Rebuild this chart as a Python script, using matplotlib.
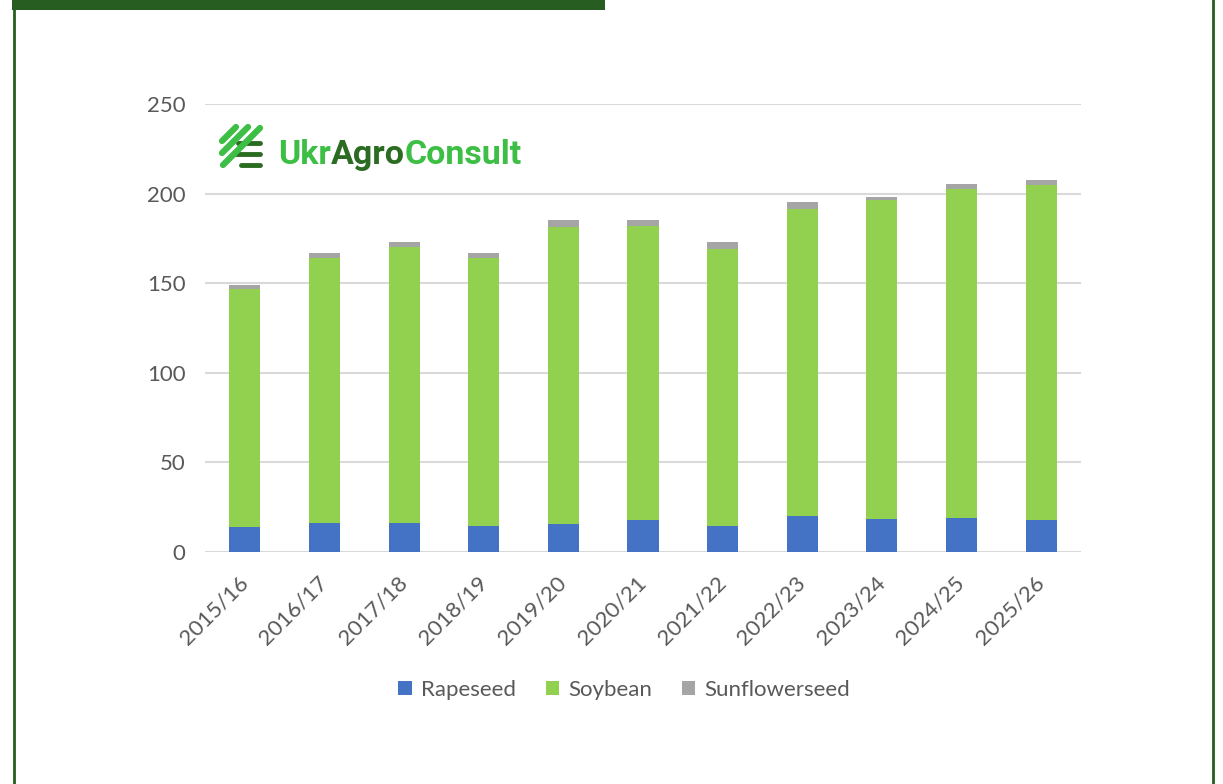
import numpy as np
from matplotlib import pyplot as plt
from matplotlib.lines import Line2D
from matplotlib.patches import Rectangle

## Data
seasons = ['2015/16', '2016/17', '2017/18', '2018/19', '2019/20', '2020/21',
           '2021/22', '2022/23', '2023/24', '2024/25', '2025/26']
rapeseed = [13.8, 16.0, 16.0, 14.5, 15.3, 17.5, 14.5, 19.7, 18.2, 19.0, 17.5]
soybean = [133.1, 147.9, 153.9, 149.4, 166.1, 164.6, 154.4, 171.4, 178.1, 183.8, 187.3]
sunflowerseed = [2.3, 2.8, 2.8, 2.8, 3.7, 3.0, 3.9, 4.2, 2.0, 2.8, 3.0]

c_rape = '#4472C4'
c_soy = '#92D050'
c_sun = '#A5A5A5'
txt = '#595959'
frame = '#275D20'

plt.rcParams['font.family'] = ['Lato', 'DejaVu Sans']

W, H = 1223, 784
fig = plt.figure(figsize=(W / 100, H / 100), dpi=100)
fig.patch.set_facecolor('white')

def fx(px):
	return px / W

def fy(py):
	return 1 - py / H

ax = fig.add_axes([fx(205), fy(551.7), fx(1081) - fx(205), fy(104) - fy(551.7)])
x = np.arange(len(seasons))
w = 0.39
ax.bar(x, rapeseed, w, color=c_rape, label='Rapeseed', zorder=3)
ax.bar(x, soybean, w, bottom=rapeseed, color=c_soy, label='Soybean', zorder=3)
bottom2 = np.array(rapeseed) + np.array(soybean)
ax.bar(x, sunflowerseed, w, bottom=bottom2, color=c_sun, label='Sunflowerseed', zorder=3)

ax.set_xlim(-0.5, len(seasons) - 0.5)
ax.set_ylim(0, 250)
ax.set_yticks(range(0, 251, 50))
ax.yaxis.grid(True, color='#D9D9D9', linewidth=1.5, zorder=0)
for s in ax.spines.values():
	s.set_visible(False)
ax.tick_params(axis='both', length=0, labelsize=16, labelcolor=txt)
ax.tick_params(axis='y', pad=14)
ax.set_xticks(x)
ax.set_xticklabels(seasons, rotation=45, ha='right', va='center', rotation_mode='anchor')
ax.tick_params(axis='x', pad=20)

fig.legend(loc='center', bbox_to_anchor=(fx(624), fy(690)), ncol=3, frameon=False,
	fontsize=16, labelcolor=txt, handlelength=0.6, handleheight=0.6,
	handletextpad=0.4, columnspacing=1.35)

## frame around the chart
fig.add_artist(Rectangle((fx(12), fy(10)), fx(605) - fx(12), fy(0) - fy(10),
	transform=fig.transFigure, color=frame, lw=0))
fig.add_artist(Line2D([fx(14), fx(14)], [0, 1], transform=fig.transFigure, color=frame, lw=2))
fig.add_artist(Line2D([fx(1213), fx(1213)], [0, 1], transform=fig.transFigure, color=frame, lw=2))

## logo
bright = '#3DBE45'
dark = '#2B6B22'
for (x0, y0, x1, y1) in [(222, 141, 236, 127), (222, 153, 248, 127), (223, 165, 260, 128)]:
	fig.add_artist(Line2D([fx(x0), fx(x1)], [fy(y0), fy(y1)], transform=fig.transFigure,
		color=bright, lw=4.5, solid_capstyle='round'))
for (x0, x1, yy) in [(238, 260, 143), (233, 260, 154), (241, 260, 165)]:
	fig.add_artist(Line2D([fx(x0), fx(x1)], [fy(yy), fy(yy)], transform=fig.transFigure,
		color=dark, lw=3.5, solid_capstyle='round', zorder=0.5))

fig.canvas.draw()
renderer = fig.canvas.get_renderer()
xpos = fx(278)
for part, col in [('Ukr', bright), ('Agro', dark), ('Consult', bright)]:
	t = fig.text(xpos, fy(164), part, color=col, fontsize=24.5, fontweight='bold',
		family=['Roboto', 'DejaVu Sans'], ha='left', va='baseline')
	bb = t.get_window_extent(renderer)
	xpos = bb.x1 / W

fig.savefig('out.png', dpi=100)
